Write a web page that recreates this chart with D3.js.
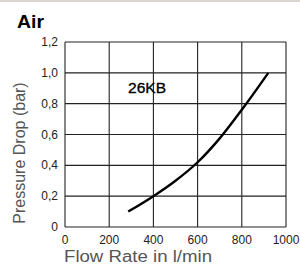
<!DOCTYPE html>
<html>
<head>
<meta charset="utf-8">
<script src="https://cdn.jsdelivr.net/npm/d3@7"></script>
<style>
  body { margin: 0; background: #fff; }
  svg { display: block; font-family: "Liberation Sans", Arial, sans-serif; }
</style>
</head>
<body>
<svg width="300" height="264"></svg>
<script>
// curve (flow l/min, pressure drop bar)
const flow = [286, 400, 500, 600, 700, 810, 920];
const drop = [0.1, 0.2, 0.3, 0.42, 0.575, 0.78, 1.0];
const xTicks = [0, 200, 400, 600, 800, 1000];
const yTicks = [0, 0.2, 0.4, 0.6, 0.8, 1.0, 1.2];
const seriesName = "26KB";

let svg = d3.select("svg");

// thin grey band on top
svg.append("rect").attr("x", 0).attr("y", 0).attr("width", 300).attr("height", 2)
    .attr("fill", "#d8d5cc");

const x = d3.scaleLinear().domain([0, 1000]).range([65, 286]);
const y = d3.scaleLinear().domain([0, 1.2]).range([227, 42]);

// grid
let grid = svg.append("g").attr("stroke", "#222").attr("stroke-width", 1.1);
grid.selectAll(".vx").data(xTicks).enter().append("line")
    .attr("x1", d => x(d)).attr("x2", d => x(d))
    .attr("y1", y(0)).attr("y2", y(1.2));
grid.selectAll(".hy").data(yTicks).enter().append("line")
    .attr("x1", x(0)).attr("x2", x(1000))
    .attr("y1", d => y(d)).attr("y2", d => y(d));

// tick labels
const fmt = d => d === 0 ? "0" : d3.format(".1f")(d).replace(".", ",");
svg.append("g").selectAll("text").data(xTicks).enter().append("text")
    .attr("x", d => x(d)).attr("y", 244)
    .attr("text-anchor", "middle")
    .attr("font-size", 12).attr("fill", "#222")
    .text(d => d);
svg.append("g").selectAll("text").data(yTicks).enter().append("text")
    .attr("x", 58).attr("y", d => y(d) + 4)
    .attr("text-anchor", "end")
    .attr("font-size", 12).attr("fill", "#222")
    .text(fmt);

// curve
const line = d3.line()
    .x(d => x(d[0])).y(d => y(d[1]))
    .curve(d3.curveCatmullRom);
svg.append("path")
    .datum(d3.zip(flow, drop))
    .attr("d", line)
    .attr("fill", "none")
    .attr("stroke", "#000")
    .attr("stroke-width", 2.4);

svg.append("text").attr("x", 128).attr("y", 93)
    .attr("font-size", 14).attr("fill", "#000")
    .attr("stroke", "#000").attr("stroke-width", 0.3)
    .attr("textLength", 38).attr("lengthAdjust", "spacingAndGlyphs")
    .text(seriesName);

// titles
svg.append("text").attr("x", 17).attr("y", 28)
    .attr("font-size", 18).attr("font-weight", "bold").attr("fill", "#000")
    .attr("textLength", 27).attr("lengthAdjust", "spacingAndGlyphs")
    .text("Air");
svg.append("text")
    .attr("transform", "translate(25,153) rotate(-90)")
    .attr("text-anchor", "middle")
    .attr("font-size", 16).attr("fill", "#555")
    .text("Pressure Drop (bar)");
svg.append("text").attr("x", 64).attr("y", 262)
    .attr("font-size", 16).attr("fill", "#555")
    .attr("textLength", 148).attr("lengthAdjust", "spacingAndGlyphs")
    .text("Flow Rate in l/min");
</script>
</body>
</html>
